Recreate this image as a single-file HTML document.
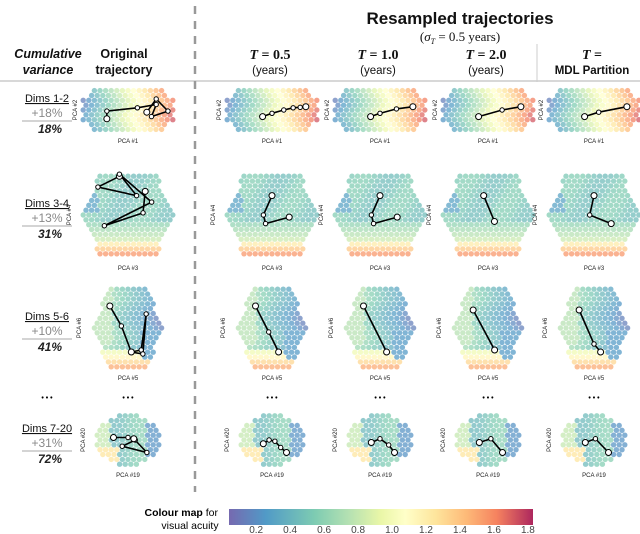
<!DOCTYPE html>
<html><head><meta charset="utf-8">
<style>
body{margin:0;background:#fff;width:640px;height:534px;overflow:hidden;font-family:"Liberation Sans",sans-serif}
svg{display:block}
</style></head>
<body>
<svg id="fig" width="640" height="534" viewBox="0 0 640 534" xmlns="http://www.w3.org/2000/svg">
<defs>
<linearGradient id="cmap" x1="0" x2="1" y1="0" y2="0">
<stop offset="0" stop-color="#5e4fa2"/><stop offset="0.12" stop-color="#3288bd"/>
<stop offset="0.28" stop-color="#66c2a5"/><stop offset="0.4" stop-color="#abdda4"/>
<stop offset="0.5" stop-color="#e6f598"/><stop offset="0.58" stop-color="#ffffbf"/>
<stop offset="0.68" stop-color="#fee08b"/><stop offset="0.78" stop-color="#fdae61"/>
<stop offset="0.88" stop-color="#f46d43"/><stop offset="1" stop-color="#9e0142"/>
</linearGradient>
</defs>
<g text-anchor="middle" fill="#111">
<text x="460" y="24" font-size="17" font-weight="bold">Resampled trajectories</text>
<text x="460" y="41" font-size="13" font-family="Liberation Serif,serif">(<tspan font-style="italic">σ</tspan><tspan font-size="8" font-style="italic" dy="3">T</tspan><tspan dy="-3"> = 0.5  years)</tspan></text>
<text x="48" y="58" font-size="12.5" font-weight="bold" font-style="italic">Cumulative</text>
<text x="48" y="74" font-size="12.5" font-weight="bold" font-style="italic">variance</text>
<text x="124" y="58" font-size="12.5" font-weight="bold">Original</text>
<text x="124" y="74" font-size="12.5" font-weight="bold">trajectory</text>
<text x="270" y="59" font-size="14" font-weight="bold" font-family="Liberation Serif,serif"><tspan font-style="italic">T</tspan> = 0.5</text>
<text x="270" y="74" font-size="11.5">(years)</text>
<text x="378" y="59" font-size="14" font-weight="bold" font-family="Liberation Serif,serif"><tspan font-style="italic">T</tspan> = 1.0</text>
<text x="378" y="74" font-size="11.5">(years)</text>
<text x="486" y="59" font-size="14" font-weight="bold" font-family="Liberation Serif,serif"><tspan font-style="italic">T</tspan> = 2.0</text>
<text x="486" y="74" font-size="11.5">(years)</text>
<text x="592" y="59" font-size="14" font-weight="bold" font-family="Liberation Serif,serif"><tspan font-style="italic">T</tspan> =</text>
<text x="592" y="74" font-size="11.5" font-weight="bold">MDL Partition</text>
</g>
<line x1="0" y1="81" x2="640" y2="81" stroke="#ccc" stroke-width="1.5"/>
<line x1="195" y1="6" x2="195" y2="492" stroke="#999" stroke-width="2.5" stroke-dasharray="8,7"/>
<line x1="537" y1="44" x2="537" y2="82" stroke="#ccc" stroke-width="1"/>
<g id="rows"></g>
<g id="panels"></g>
<g id="cbar">
<text x="218" y="516" font-size="10.5" text-anchor="end"><tspan font-weight="bold">Colour map</tspan> for</text>
<text x="190" y="529" font-size="10.5" text-anchor="middle">visual acuity</text>
<rect x="229" y="509" width="304" height="16" fill="url(#cmap)" fill-opacity="0.85"/>
</g>
</svg>
<script>
const NS="http://www.w3.org/2000/svg";
const cbTicks=[0.2,0.4,0.6,0.8,1.0,1.2,1.4,1.6,1.8];
const cbMin=0.04, cbMax=1.83;
const dimLabels=["Dims 1-2","Dims 3-4","Dims 5-6","Dims 7-20"];
const addVar=["+18%","+13%","+10%","+31%"];
const cumVar=["18%","31%","41%","72%"];
const rowY=[110,215,328,440];
const colX=[128,272,380,488,594];
const xLab=["PCA #1","PCA #3","PCA #5","PCA #19"];
const yLab=["PCA #2","PCA #4","PCA #6","PCA #20"];
const traj=[
 [[[-0.45,0.4],[-0.45,0.05],[0.2,-0.1],[0.6,-0.25],[0.5,0.3],[0.85,0.05],[0.6,-0.5],[0.4,0.1]],
  [[-0.2,0.3],[0.0,0.15],[0.25,0.0],[0.45,-0.1],[0.6,-0.12],[0.72,-0.15]],
  [[-0.2,0.3],[0.0,0.15],[0.35,-0.05],[0.7,-0.15]],
  [[-0.2,0.3],[0.3,0.0],[0.7,-0.15]],
  [[-0.2,0.3],[0.1,0.1],[0.7,-0.15]]],
 [[[-0.2,-0.9],[-0.7,-0.65],[0.2,-0.45],[-0.2,-0.95],[0.55,-0.3],[-0.55,0.25],[0.35,-0.05],[0.4,-0.55]],
  [[0.0,-0.45],[-0.2,0.0],[-0.15,0.2],[0.4,0.05]],
  [[0.0,-0.45],[-0.2,0.0],[-0.15,0.2],[0.4,0.05]],
  [[-0.1,-0.45],[0.15,0.15]],
  [[0.0,-0.45],[-0.1,0.0],[0.4,0.2]]],
 [[[-0.55,-0.55],[-0.2,-0.05],[0.1,0.6],[0.4,0.55],[0.55,-0.35],[0.45,0.65],[0.1,0.6]],
  [[-0.5,-0.55],[-0.1,0.1],[0.2,0.6]],
  [[-0.5,-0.55],[0.2,0.6]],
  [[-0.45,-0.45],[0.2,0.55]],
  [[-0.45,-0.45],[0.0,0.4],[0.2,0.6]]],
 [[[-0.5,-0.1],[0.0,-0.1],[0.25,0.0],[-0.2,0.25],[0.65,0.5],[0.2,-0.05]],
  [[-0.3,0.15],[-0.1,0.0],[0.1,0.05],[0.3,0.3],[0.5,0.5]],
  [[-0.3,0.1],[0.0,-0.05],[0.3,0.2],[0.5,0.5]],
  [[-0.3,0.1],[0.1,-0.05],[0.5,0.5]],
  [[-0.3,0.1],[0.05,-0.05],[0.5,0.5]]]
];
const size=[[47,22],[43,43],[33,40],[29,25]];
const stops=[[0,"#5e4fa2"],[0.12,"#3288bd"],[0.28,"#66c2a5"],[0.4,"#abdda4"],[0.5,"#e6f598"],[0.58,"#ffffbf"],[0.68,"#fee08b"],[0.78,"#fdae61"],[0.88,"#f46d43"],[1,"#9e0142"]];
function hex2(h){return [1,3,5].map(i=>parseInt(h.substr(i,2),16));}
function cmap(v){let t=(v-cbMin)/(cbMax-cbMin);t=Math.max(0,Math.min(1,t));
 for(let i=1;i<stops.length;i++){if(t<=stops[i][0]){const a=hex2(stops[i-1][1]),b=hex2(stops[i][1]);const f=(t-stops[i-1][0])/(stops[i][0]-stops[i-1][0]);return `rgb(${a.map((c,k)=>Math.round(c+(b[k]-c)*f)).join(",")})`;}}
 return stops[stops.length-1][1];}
function inside(r,u,v){
 if(r===0){const dx=Math.max(0,Math.abs(u)-0.55)/0.45;return dx*dx+v*v<=1;}
 if(r===1)return Math.abs(v)<=1&&Math.abs(u)+Math.abs(v)*0.4<=1.05;
 if(r===2)return Math.abs(v)<=1&&Math.abs(u)+Math.abs(v)*0.5<=1.08;
 return u*u*0.8+v*v<=1.05;}
function val(r,u,v){
 if(r===0)return 0.15+(u+1)*0.78+0.06*Math.sin(v*5);
 if(r===1){let x=0.5+0.06*Math.sin(u*5+v*3);if(v>0.2)x=0.6+(v-0.2)*0.6;if(v>0.6)x=1.1+(v-0.6)*1.5;if(u<-0.7&&v<0&&v>-0.5)x=0.3;return x;}
 if(r===2){let x=0.45-u*0.3+0.05*Math.sin(v*6);if(v>0.55)x=0.9+(v-0.55)*1.4;if(u>0.4&&v>0.1&&v<0.8)x=0.25;if(u<-0.5&&v<0.4)x=0.75;return x;}
 let x=0.5+0.08*Math.sin(u*3);if(u>0.6)x=0.22;if(u<-0.3&&v>0.3)x=1.25;if(u<-0.6&&v<0.3)x=0.8;return x;}
function el(tag,attrs,parent){const e=document.createElementNS(NS,tag);for(const k in attrs)e.setAttribute(k,attrs[k]);parent.appendChild(e);return e;}
const rows=document.getElementById("rows"),panels=document.getElementById("panels");
for(let r=0;r<4;r++){
 const y=rowY[r]-8;
 const t1=el("text",{x:47,y:y,"font-size":11,"text-anchor":"middle","text-decoration":"underline",fill:"#111"},rows);t1.textContent=dimLabels[r];
 
 
 const t2=el("text",{x:47,y:y+15,"font-size":12,"text-anchor":"middle",fill:"#888"},rows);t2.textContent=addVar[r];
 
 
 const ln=el("line",{x1:22,x2:72,y1:y+19,y2:y+19,stroke:"#bbb","stroke-width":1.2},rows);
 
 
 const t3=el("text",{x:50,y:y+31,"font-size":12,"font-style":"italic","font-weight":"bold","text-anchor":"middle",fill:"#222"},rows);t3.textContent=cumVar[r];
 
 
 if(r===3){for(let c=0;c<5;c++){const d=el("text",{x:colX[c],y:400,"font-size":7,"font-weight":"bold","text-anchor":"middle"},rows);d.textContent="• • •";
  
  }
  const dd=el("text",{x:47,y:400,"font-size":7,"font-weight":"bold","text-anchor":"middle"},rows);dd.textContent="• • •";
  
  }
 for(let c=0;c<5;c++){
  const cx=colX[c],cy=rowY[r],[hw,hh]=size[r];
  const g=el("g",{},panels);
  
  
  const sp=5.6,rs=sp*0.866;
  for(let j=-Math.ceil(hh/rs);j<=Math.ceil(hh/rs);j++){
   for(let i=-Math.ceil(hw/sp)-1;i<=Math.ceil(hw/sp)+1;i++){
    const px=cx+i*sp+((j&1)?sp/2:0),py=cy+j*rs;const u=(px-cx)/hw,v=(py-cy)/hh;
    if(!inside(r,u,v))continue;
    const h=el("circle",{cx:px.toFixed(1),cy:py.toFixed(1),r:2.7,fill:cmap(val(r,u,v)),"fill-opacity":0.62},g);
    
    
   }}
  const xl=el("text",{x:cx,y:cy+hh+(r===0?11:12),"font-size":6,"text-anchor":"middle",fill:"#222"},g);xl.textContent=xLab[r];
  
  
  const yx=cx-hw-(r===0?4:14);
  const yl=el("text",{x:yx,y:cy,"font-size":6,"text-anchor":"middle",transform:`rotate(-90 ${yx} ${cy})`,fill:"#222"},g);yl.textContent=yLab[r];
  
  
  const pts=traj[r][c].map(p=>[cx+p[0]*hw,cy+p[1]*hh]);
  const pl=el("polyline",{points:pts.map(p=>p.join(",")).join(" "),fill:"none",stroke:"#000","stroke-width":1.6},g);
  
  
  pts.forEach((p,k)=>{const m=el("circle",{cx:p[0],cy:p[1],r:(k===0||k===pts.length-1)?3:2.2,fill:"#fff",stroke:"#000","stroke-width":1},g);
   
   });
 }}
const cb=document.getElementById("cbar");
cbTicks.forEach(t=>{const x=229+(t-cbMin)/(cbMax-cbMin)*304;
 const tx=el("text",{x:x,y:533,"font-size":10,"text-anchor":"middle",fill:"#444"},cb);tx.textContent=t.toFixed(1);
 
 });
</script>
</body></html>
